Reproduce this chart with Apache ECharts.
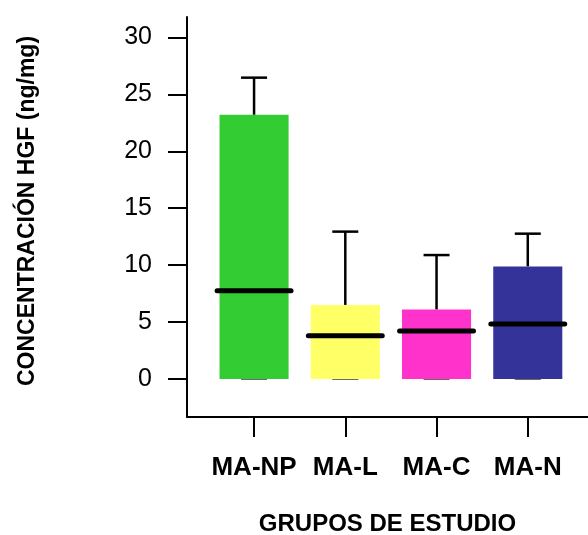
<!DOCTYPE html>
<html>
<head>
<meta charset="utf-8">
<script src="https://cdn.jsdelivr.net/npm/echarts@6/dist/echarts.min.js"></script>
<style>
html,body{margin:0;padding:0;background:#fff;}
#chart{width:588px;height:535px;}
</style>
</head>
<body>
<div id="chart"></div>
<script>
var categories = ['MA-NP', 'MA-L', 'MA-C', 'MA-N'];
var minValues = [0, 0, 0, 0];
var q1Values = [0, 0, 0, 0];
var medianValues = [7.74, 3.79, 4.2, 4.82];
var q3Values = [23.2, 6.5, 6.09, 9.88];
var maxValues = [26.47, 12.94, 10.88, 12.76];
var boxColors = ['#33CC33', '#FFFF66', '#FF33CC', '#333399'];
var yTicks = [0, 5, 10, 15, 20, 25, 30];
var xPositions = [1, 2, 3, 4];

var data = categories.map(function (c, i) {
  return [xPositions[i], minValues[i], q1Values[i], medianValues[i], q3Values[i], maxValues[i]];
});

var chart = echarts.init(document.getElementById('chart'), null, {renderer: 'canvas'});
var font = '"Liberation Sans", Arial, Helvetica, sans-serif';

chart.setOption({
  backgroundColor: '#ffffff',
  animation: false,
  grid: {left: 187, right: 0, top: 17, bottom: 118, containLabel: false, outerBoundsMode: 'none'},
  xAxis: {
    type: 'value',
    min: 0.265,
    max: 4.66,
    splitLine: {show: false},
    axisLine: {show: true, onZero: false, lineStyle: {color: '#000', width: 2}},
    axisTick: {show: true, length: 20, lineStyle: {color: '#000', width: 2}, customValues: xPositions},
    axisLabel: {
      customValues: xPositions,
      formatter: function (v) { return categories[Math.round(v) - 1] || ''; },
      color: '#000', fontFamily: font, fontWeight: 'bold', fontSize: 26, margin: 38
    },
    name: 'GRUPOS DE ESTUDIO',
    nameLocation: 'middle',
    nameGap: 95,
    nameTextStyle: {color: '#000', fontFamily: font, fontWeight: 'bold', fontSize: 24}
  },
  yAxis: {
    type: 'value',
    min: -3.35,
    max: 31.8,
    splitLine: {show: false},
    axisLine: {show: true, onZero: false, lineStyle: {color: '#000', width: 2}},
    axisTick: {show: true, length: 19, lineStyle: {color: '#000', width: 2}, customValues: yTicks},
    axisLabel: {
      customValues: yTicks,
      color: '#000', fontFamily: font, fontSize: 25, margin: 35
    },
    name: 'CONCENTRACIÓN HGF (ng/mg)',
    nameLocation: 'middle',
    nameGap: 148,
    nameTextStyle: {color: '#000', fontFamily: font, fontWeight: 'bold', fontSize: 23, padding: [0, 0, 0, 12]}
  },
  series: [{
    type: 'custom',
    data: data,
    encode: {x: 0, y: [1, 2, 3, 4, 5]},
    renderItem: function (params, api) {
      var x = api.value(0);
      var unit = api.size([1, 0])[0];
      var boxW = unit * 0.757;
      var medW = unit * 0.81;
      var capW = unit * 0.285;
      var pMin = api.coord([x, api.value(1)]);
      var pQ1 = api.coord([x, api.value(2)]);
      var pMed = api.coord([x, api.value(3)]);
      var pQ3 = api.coord([x, api.value(4)]);
      var pMax = api.coord([x, api.value(5)]);
      var cx = pMin[0];
      var color = boxColors[params.dataIndex];
      return {
        type: 'group',
        children: [
          {type: 'line', shape: {x1: cx - capW / 2, y1: pMin[1], x2: cx + capW / 2, y2: pMin[1]}, style: {stroke: '#555', lineWidth: 2}},
          {type: 'line', shape: {x1: cx, y1: pMin[1], x2: cx, y2: pQ1[1]}, style: {stroke: '#000', lineWidth: 2.5}},
          {type: 'line', shape: {x1: cx, y1: pQ3[1], x2: cx, y2: pMax[1]}, style: {stroke: '#000', lineWidth: 2.5}},
          {type: 'line', shape: {x1: cx - capW / 2, y1: pMax[1], x2: cx + capW / 2, y2: pMax[1]}, style: {stroke: '#000', lineWidth: 2.5}},
          {type: 'rect', shape: {x: cx - boxW / 2, y: pQ3[1], width: boxW, height: pQ1[1] - pQ3[1]}, style: {fill: color, stroke: null}},
          {type: 'line', shape: {x1: cx - medW / 2, y1: pMed[1], x2: cx + medW / 2, y2: pMed[1]}, style: {stroke: '#000', lineWidth: 5, lineCap: 'round'}}
        ]
      };
    }
  }]
});
</script>
</body>
</html>
